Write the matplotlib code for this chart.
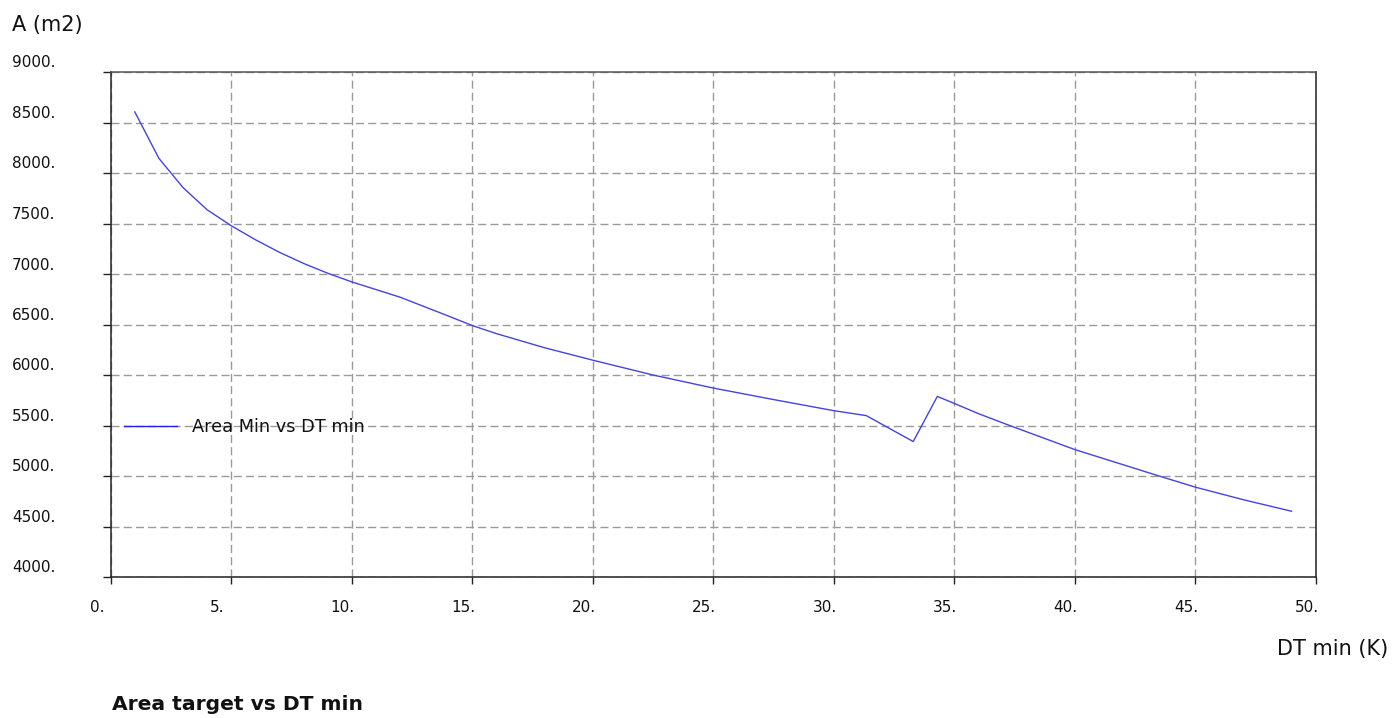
import matplotlib
matplotlib.use("Agg")
import matplotlib.pyplot as plt
from matplotlib.transforms import ScaledTranslation, blended_transform_factory

# ---- data ----
dt_min = [1.0, 2.0, 3.0, 4.0, 5.0, 6.0, 7.0, 8.0, 9.0, 10.0, 12.0, 14.0, 15.0,
          16.0, 17.5, 18.0, 20.0, 22.5, 25.0, 27.5, 30.0, 31.35, 33.3, 34.3,
          35.0, 36.0, 37.3, 40.0, 43.5, 45.0, 47.0, 49.0]
area = [8605, 8145, 7856, 7636, 7478, 7340, 7215, 7105, 7008, 6922, 6771, 6585, 6490,
        6410, 6305, 6270, 6147, 6000, 5871, 5757, 5647, 5598, 5341, 5788,
        5719, 5618, 5500, 5262, 5000, 4890, 4765, 4651]
x_ticks = [0, 5, 10, 15, 20, 25, 30, 35, 40, 45, 50]
y_ticks = [4000, 4500, 5000, 5500, 6000, 6500, 7000, 7500, 8000, 8500, 9000]
x_tick_labels = ["0.", "5.", "10.", "15.", "20.", "25.", "30.", "35.", "40.", "45.", "50."]
y_tick_labels = ["4000.", "4500.", "5000.", "5500.", "6000.", "6500.", "7000.",
                 "7500.", "8000.", "8500.", "9000."]
series_label = "Area Min vs DT min"
y_title = "A (m2)"
x_title = "DT min (K)"
chart_title = "Area target vs DT min"

W, H, DPI = 1392, 718, 100
plt.rcParams['font.family'] = ['DejaVu Sans']
fig = plt.figure(figsize=(W / DPI, H / DPI), dpi=DPI)
fig.patch.set_facecolor("white")

left, right, bottom, top = 110.7, 1315.7, 577.0, 72.0
ax = fig.add_axes([left / W, 1 - bottom / H, (right - left) / W, (bottom - top) / H])
ax.set_xlim(0, 50)
ax.set_ylim(4000, 9000)

line, = ax.plot(dt_min, area, color="#4444e0", lw=1.0, label=series_label, zorder=3)

ax.set_xticks(x_ticks)
ax.set_yticks(y_ticks)
ax.set_xticklabels([])
ax.set_yticklabels([])
ax.tick_params(axis="y", direction="out", length=5.8, width=1.0, color="#222222")
ax.tick_params(axis="x", direction="out", length=5.0, width=1.0, color="#222222")
ax.grid(True, color="#9a9a9a", lw=1.0, linestyle=(0, (5.8, 3.0)), zorder=1)

for s in ["left", "bottom", "right"]:
    ax.spines[s].set_color("#222222")
    ax.spines[s].set_linewidth(1.1)
ax.spines["top"].set_color("#555555")
ax.spines["top"].set_linewidth(1.1)

# tick labels (manually positioned as in the original)
ytr = blended_transform_factory(fig.transFigure, ax.transData) + \
    ScaledTranslation(0, 9 / DPI, fig.dpi_scale_trans)
for v, lab in zip(y_ticks, y_tick_labels):
    fig.text(12 / W, v, lab, transform=ytr, ha="left", va="center", fontsize=11,
             color="#111111")
xtr = blended_transform_factory(ax.transData, fig.transFigure) + \
    ScaledTranslation(-21 / DPI, 0, fig.dpi_scale_trans)
for v, lab in zip(x_ticks, x_tick_labels):
    fig.text(v, 1 - 608 / H, lab, transform=xtr, ha="left", va="center", fontsize=11,
             color="#111111")

fig.text(12 / W, 1 - 25 / H, y_title, ha="left", va="center", fontsize=15, color="#111111")
fig.text(1388 / W, 1 - 649 / H, x_title, ha="right", va="center", fontsize=15, color="#111111")
fig.text(112 / W, 1 - 704 / H, chart_title, ha="left", va="center", fontsize=14.6,
         fontweight="bold", color="#111111")

leg = ax.legend(handles=[line], loc="center left",
                bbox_to_anchor=(124 / W, 1 - 427 / H), bbox_transform=fig.transFigure,
                frameon=False, borderpad=0, borderaxespad=0, handlelength=3.0,
                handletextpad=0.85, fontsize=12.8)
for t in leg.get_texts():
    t.set_color("#111111")
for h in leg.legend_handles:
    h.set_color("#2020e6")

fig.savefig("out.png", dpi=DPI, facecolor="white")
